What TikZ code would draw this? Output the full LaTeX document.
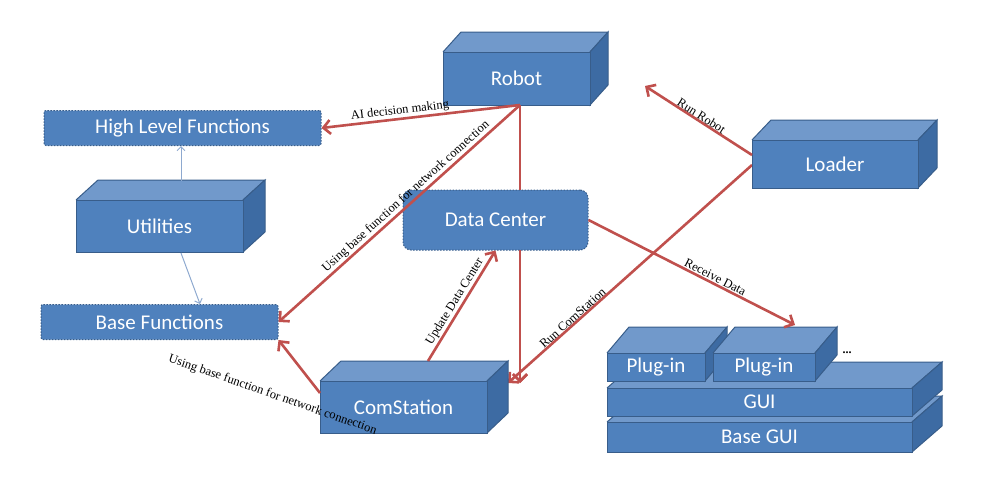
\documentclass[tikz,border=0pt]{standalone}
\usepackage{fontspec}
\setmainfont{Liberation Serif}
\newfontfamily\calfont{Carlito}
\usetikzlibrary{arrows.meta}
\definecolor{fr}{HTML}{4F81BD}
\definecolor{tp}{HTML}{7199CB}
\definecolor{sd}{HTML}{3D6BA3}
\definecolor{bd}{HTML}{385D8A}
\definecolor{rd}{HTML}{C0504D}
\definecolor{lb}{HTML}{8EA9CF}
\tikzset{
 face/.style={draw=bd,line width=1pt},
 frontbox/.style={face,fill=fr,text=white,font=\calfont\fontsize{21}{21}\selectfont,inner sep=0pt},
 dashbox/.style={draw=bd,line width=1pt,dash pattern=on 1.5pt off 1.5pt,fill=fr,text=white,font=\calfont\fontsize{21}{21}\selectfont,inner sep=0pt},
 redarr/.style={draw=rd,line width=2.6pt,-{Straight Barb[length=7pt,width=14pt]}},
 redline/.style={draw=rd,line width=2.6pt},
 thinarr/.style={draw=lb,line width=1pt,-{Straight Barb[length=4pt,width=8pt]}},
 lab/.style={font=\fontsize{12.5}{12.5}\selectfont,text=black,inner sep=1pt},
}
% name, x1,y1,x2,y2, dx, dy, text
\newcommand{\cubebox}[8]{%
 \fill[tp] (#2,#3)--(#2+#6,#3-#7)--(#4+#6,#3-#7)--(#4,#3)--cycle;
 \draw[face] (#2,#3)--(#2+#6,#3-#7)--(#4+#6,#3-#7)--(#4,#3);
 \filldraw[face,fill=sd] (#4,#3)--(#4+#6,#3-#7)--(#4+#6,#5-#7)--(#4,#5)--cycle;
 \node[frontbox,minimum width={(#4-#2)*1pt},minimum height={(#5-#3)*1pt}] (#1) at ({(#2+#4)/2},{(#3+#5)/2}) {#8};
}
\begin{document}
\begin{tikzpicture}[x=1pt,y=-1pt]
\useasboundingbox (0,0) rectangle (991,490);
\coordinate (rb) at (520,105);
\coordinate (lo) at (752,165);
\coordinate (lt) at (752,155);
\coordinate (re) at (645,86);
\coordinate (cs) at (508,383);
\coordinate (csd) at (520,383);
\coordinate (rt) at (795,325);
\coordinate (cu) at (428,361);
\coordinate (cw) at (320,393);
\coordinate (ut) at (181,181);
\coordinate (hb) at (181,146);
\coordinate (ub) at (181,253);
\coordinate (bt) at (200,304);
\draw[redarr] (rb) -- (csd);
\draw[redarr] (lo) -- (cs);
% boxes
\cubebox{robot}{443}{52}{590}{105}{18}{20}{Robot}
\cubebox{loader}{752}{140}{918}{188}{19}{20}{Loader}
\cubebox{util}{76}{200}{243}{252}{22}{20}{Utilities}
\cubebox{com}{320}{381}{487}{433}{21}{20}{ComStation}
\cubebox{baseg}{607}{422}{912}{452}{30}{26}{Base GUI}
\cubebox{gui}{607}{388}{912}{416}{30}{26}{GUI}
\cubebox{p1}{607}{353}{705}{381}{22}{26}{Plug-in}
\cubebox{p2}{713}{353}{815}{381}{22}{26}{Plug-in}
\node[dashbox,rounded corners=8pt,minimum width=185pt,minimum height=60pt] (dc) at (495.5,220) {Data Center};
\node[dashbox,rounded corners=2pt,minimum width=277pt,minimum height=35pt] (hlf) at (182.5,128) {High Level Functions};
\node[dashbox,rounded corners=2pt,minimum width=237pt,minimum height=35pt] (bf) at (159.5,322) {Base Functions};
\node[font=\bfseries\large,inner sep=0pt] (dots) at (847,353) {...};
% connectors
\draw[redarr] (rb) -- (hlf.east) node[lab,pos=0.6,above,sloped] {AI decision making};
\draw[redarr] (rb) -- (bf.east) node[lab,pos=0.45,above,sloped] {Using base function for network connection};
\draw[redline] (rb) -- (520,190);
\draw[redarr] (cu) -- (dc.south) node[lab,midway,above,sloped] {Update Data Center};
\draw[redarr] (520,250) -- (csd);
\path (lo) -- (cs) node[lab,pos=0.72,above,sloped] {Run ComStation};
\draw[redarr] (lt) -- (re);
\path (re) -- (lt) node[lab,midway,above,sloped] {Run Robot};
\draw[redarr] (dc.east) -- (rt) node[lab,pos=0.6,above,sloped] {Receive Data};
\draw[redarr] (cw) -- (bf.south east);
\path (150,352) -- (395,438) node[lab,midway,sloped] {Using base function for network connection};
\draw[thinarr] (ut) -- (hb);
\draw[thinarr] (ub) -- (bt);
\end{tikzpicture}
\end{document}
